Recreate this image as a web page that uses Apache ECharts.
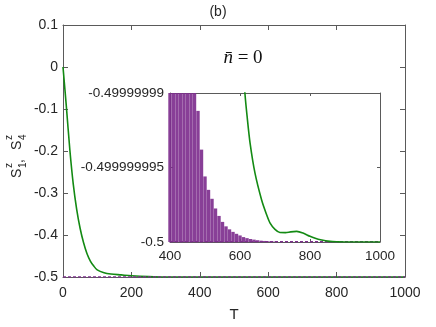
<!DOCTYPE html>
<html>
<head>
<meta charset="utf-8">
<script src="https://cdn.jsdelivr.net/npm/echarts@6/dist/echarts.min.js"></script>
<style>
  html, body { margin: 0; padding: 0; background: #fff; }
  #chart { width: 436px; height: 327px; }
</style>
</head>
<body>
<div id="chart"></div>
<script>
// main panel, S1 (green)
const mainT = [0, 10, 20, 30, 40, 50, 60, 70, 80, 90, 100, 120, 140, 170, 200, 250, 300, 1000]
const mainS1 = [0, -0.096, -0.197, -0.279, -0.339, -0.384, -0.418, -0.444, -0.462, -0.474, -0.483, -0.49, -0.493, -0.495, -0.497, -0.499, -0.5, -0.5]
// main panel, S4 (purple) sits on -0.5
const mainS4T = [0, 1000]
const mainS4 = [-0.5, -0.5]

// inset, values are offsets above -0.5 in units of 1e-9
const insetT = [605, 614, 620, 629, 643, 662, 675, 686, 700, 714, 730, 745, 762, 780, 800, 815, 830, 857, 880, 900, 1000]
const insetS1 = [13, 10, 8.5, 6.6, 4.6, 2.8, 1.9, 1.27, 0.85, 0.64, 0.63, 0.68, 0.71, 0.6, 0.38, 0.25, 0.15, 0.04, 0.01, 0, 0]
const insetS4T = [400, 410, 420, 430, 440, 450, 460, 470, 480, 490, 500, 510, 520, 530, 540, 550,
  560, 570, 580, 590, 600, 610, 620, 630, 640, 650, 660, 670, 680, 690, 700]
const insetS4 = [10, 10, 10, 10, 10, 10, 10, 10, 8.8, 6.2, 4.4, 3.5, 2.9, 2.25, 1.75, 1.35,
  1.05, 0.85, 0.68, 0.55, 0.44, 0.33, 0.26, 0.2, 0.16, 0.12, 0.09, 0.07, 0.05, 0.04, 0.03]
const insetYLabels = { 0: '-0.5', 5: '-0.499999995', 10: '-0.49999999' }

const green = '#138a13'
const purple = '#7e2f8e'
const axisColor = '#5a5a5a'
const textColor = '#262626'
const font = 'Liberation Sans, Arial, sans-serif'

const pairs = (xs, ys) => xs.map((x, i) => [x, ys[i]])

function xAx (grid, min, max, show, size) {
  return {
    type: 'value', gridIndex: grid, min: min, max: max, interval: 200,
    position: show ? 'bottom' : 'top',
    axisLine: { show: true, onZero: false, lineStyle: { color: axisColor, width: 1 } },
    axisTick: { show: true, inside: true, length: grid === 0 ? 5 : 3, lineStyle: { color: axisColor } },
    axisLabel: { show: show, color: textColor, fontFamily: font, fontSize: size, margin: grid === 0 ? 9 : 7,
      formatter: v => String(v) },
    splitLine: { show: false }
  }
}

const option = {
  animation: false,
  backgroundColor: '#fff',
  grid: [
    { left: 63, right: 31, top: 25, bottom: 44 },
    { left: 170, right: 56, top: 93, bottom: 85, show: true, backgroundColor: '#fff', borderWidth: 0, z: 5 }
  ],
  xAxis: [
    Object.assign(xAx(0, 0, 1000, true, 14), {
      name: 'T', nameLocation: 'middle', nameGap: 30,
      nameTextStyle: { color: textColor, fontFamily: font, fontSize: 15 }
    }),
    xAx(0, 0, 1000, false, 14),
    Object.assign(xAx(1, 400, 1000, true, 13.5), { z: 6 }),
    Object.assign(xAx(1, 400, 1000, false, 13.5), { z: 6 })
  ],
  yAxis: [
    {
      type: 'value', gridIndex: 0, min: -0.5, max: 0.1, interval: 0.1, position: 'left',
      axisLine: { show: true, onZero: false, lineStyle: { color: axisColor } },
      axisTick: { show: true, inside: true, length: 5, lineStyle: { color: axisColor } },
      axisLabel: { color: textColor, fontFamily: font, fontSize: 14, margin: 5,
        formatter: v => String(+v.toFixed(1)) },
      splitLine: { show: false }
    },
    {
      type: 'value', gridIndex: 0, min: -0.5, max: 0.1, interval: 0.1, position: 'right',
      axisLine: { show: true, onZero: false, lineStyle: { color: axisColor } },
      axisTick: { show: true, inside: true, length: 5, lineStyle: { color: axisColor } },
      axisLabel: { show: false },
      splitLine: { show: false }
    },
    {
      type: 'value', gridIndex: 1, min: 0, max: 10, interval: 5, position: 'left', z: 6,
      axisLine: { show: true, onZero: false, lineStyle: { color: axisColor } },
      axisTick: { show: true, inside: true, length: 3, lineStyle: { color: axisColor } },
      axisLabel: { color: textColor, fontFamily: font, fontSize: 13.5, margin: 6,
        formatter: v => insetYLabels[Math.round(v)] },
      splitLine: { show: false }
    },
    {
      type: 'value', gridIndex: 1, min: 0, max: 10, interval: 5, position: 'right', z: 6,
      axisLine: { show: true, onZero: false, lineStyle: { color: axisColor } },
      axisTick: { show: true, inside: true, length: 3, lineStyle: { color: axisColor } },
      axisLabel: { show: false },
      splitLine: { show: false }
    }
  ],
  series: [
    {
      type: 'line', xAxisIndex: 0, yAxisIndex: 0, data: pairs(mainT, mainS1),
      smooth: 0.3, showSymbol: false,
      lineStyle: { color: green, width: 1.6 }
    },
    {
      type: 'line', xAxisIndex: 0, yAxisIndex: 0, data: pairs(mainS4T, mainS4),
      showSymbol: false,
      lineStyle: { color: purple, width: 1.6, type: [3, 2] }
    },
    {
      type: 'bar', xAxisIndex: 2, yAxisIndex: 2, data: pairs(insetS4T, insetS4),
      barWidth: 3.4, z: 7, itemStyle: { color: purple, opacity: 0.92 }
    },
    {
      type: 'line', xAxisIndex: 2, yAxisIndex: 2, data: [[400, 0.02], [1000, 0.02]],
      showSymbol: false, z: 7,
      lineStyle: { color: purple, width: 1.4, type: [3, 2] }
    },
    {
      type: 'line', xAxisIndex: 2, yAxisIndex: 2, data: pairs(insetT, insetS1),
      smooth: 0.3, showSymbol: false, z: 8,
      lineStyle: { color: green, width: 1.6 }
    }
  ],
  graphic: [
    {
      type: 'text', left: 'center', top: 5,
      style: { text: '(b)', fill: textColor, font: '14px Liberation Sans, Arial, sans-serif' }
    },
    {
      type: 'text', x: 243, y: 58, z: 20,
      style: {
        text: '{i|n\u0304}{r| = 0}', align: 'center', verticalAlign: 'middle',
        rich: {
          i: { fontFamily: 'Liberation Serif', fontStyle: 'italic', fontSize: 19, fill: '#111' },
          r: { fontFamily: 'Liberation Serif', fontSize: 19, fill: '#111' }
        }
      }
    },
    {
      type: 'group', x: 17.5, y: 178, rotation: Math.PI / 2,
      children: [
        { type: 'text', x: 0, y: 0, style: { text: 'S', fill: textColor, font: '14px Liberation Sans', verticalAlign: 'middle' } },
        { type: 'text', x: 10, y: -8, style: { text: 'z', fill: textColor, font: '10px Liberation Sans', verticalAlign: 'middle' } },
        { type: 'text', x: 10, y: 6, style: { text: '1', fill: textColor, font: '10px Liberation Sans', verticalAlign: 'middle' } },
        { type: 'text', x: 15, y: 2, style: { text: ',', fill: textColor, font: '14px Liberation Sans', verticalAlign: 'middle' } },
        { type: 'text', x: 28, y: 0, style: { text: 'S', fill: textColor, font: '14px Liberation Sans', verticalAlign: 'middle' } },
        { type: 'text', x: 38, y: -8, style: { text: 'z', fill: textColor, font: '10px Liberation Sans', verticalAlign: 'middle' } },
        { type: 'text', x: 38, y: 6, style: { text: '4', fill: textColor, font: '10px Liberation Sans', verticalAlign: 'middle' } }
      ]
    }
  ]
}

const chart = echarts.init(document.getElementById('chart'))
chart.setOption(option)
</script>
</body>
</html>
